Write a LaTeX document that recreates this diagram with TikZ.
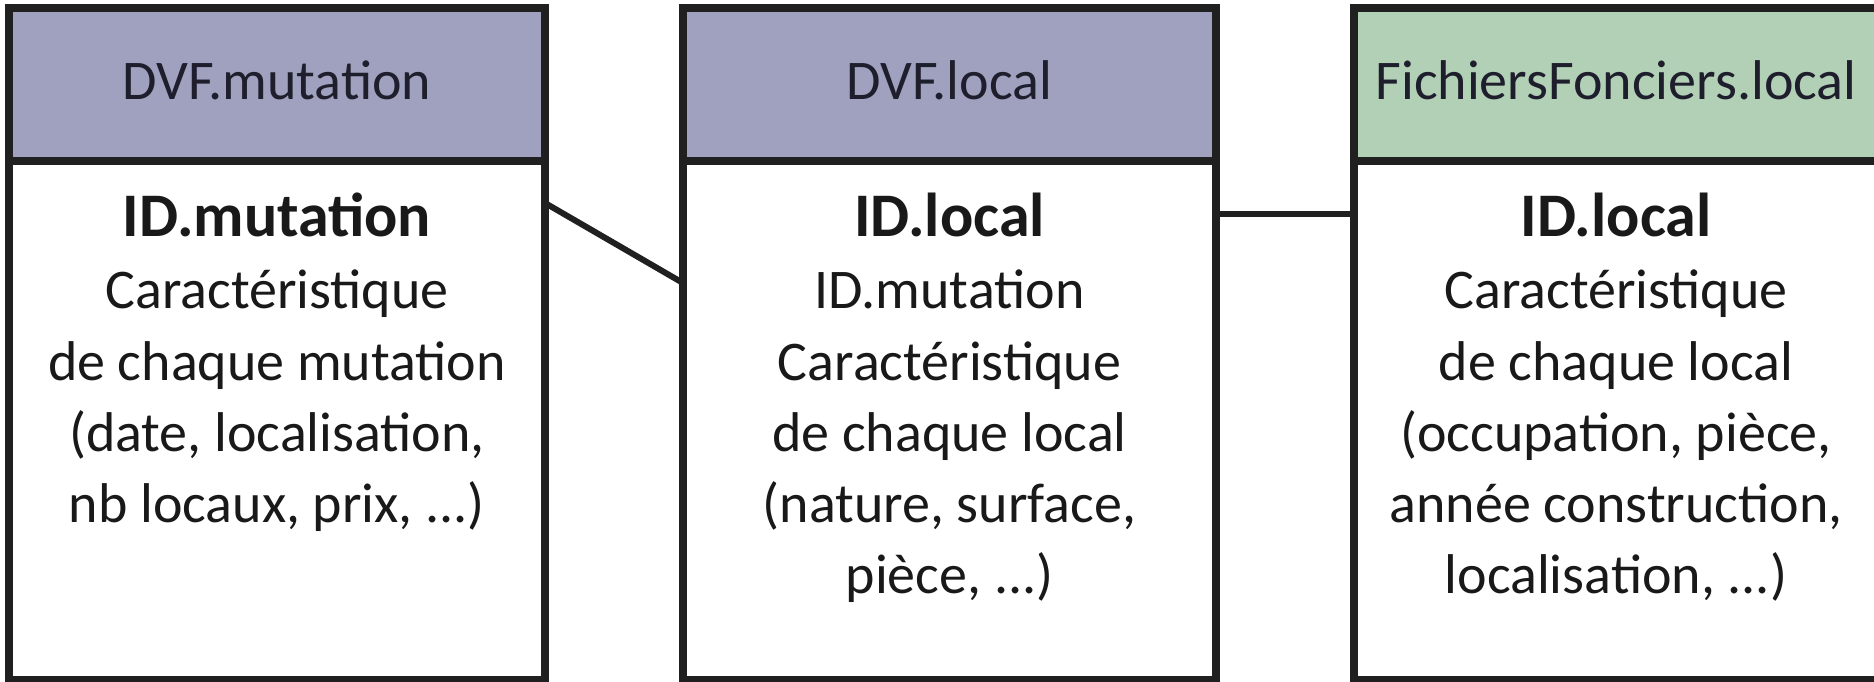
\documentclass[tikz,border=0pt]{standalone}
\usepackage{fontspec}
\setmainfont{Carlito}
\usetikzlibrary{calc}
\definecolor{hdrpurple}{RGB}{160,161,190}
\definecolor{hdrgreen}{RGB}{178,208,182}
\definecolor{edgecol}{RGB}{32,32,32}
\definecolor{hdrtext}{RGB}{30,30,45}
\begin{document}
\begin{tikzpicture}[x=1pt,y=-1pt,
  hdrbox/.style={draw=edgecol,line width=8pt,inner sep=0pt,outer sep=0pt,minimum height=153pt},
  bodybox/.style={draw=edgecol,fill=white,line width=8pt,inner sep=0pt,outer sep=0pt,minimum height=519pt},
  hdrtxt/.style={anchor=base,inner sep=0pt,text=hdrtext,font=\fontsize{56}{67}\selectfont},
  keytxt/.style={anchor=base,inner sep=0pt,text=black!90,font=\fontsize{62}{72}\selectfont\bfseries},
  bodytxt/.style={anchor=base,inner sep=0pt,text=black!90,font=\fontsize{56}{72}\selectfont},
  link/.style={draw=edgecol,line width=6pt}]
\useasboundingbox (0,0) rectangle (1874,682);
\clip (0,0) rectangle (1874,682);
% box 1
\node[hdrbox,fill=hdrpurple,minimum width=536pt] (h1) at (277,84.5) {};
\node[bodybox,minimum width=536pt] (b1) at (277,420.5) {};
% box 2
\node[hdrbox,fill=hdrpurple,minimum width=533pt] (h2) at (949.5,84.5) {};
\node[bodybox,minimum width=533pt] (b2) at (949.5,420.5) {};
% box 3
\node[hdrbox,fill=hdrgreen,minimum width=524pt] (h3) at (1616,84.5) {};
\node[bodybox,minimum width=524pt] (b3) at (1616,420.5) {};
% connectors
\draw[link] ($(b1.north east)+(0,42)$) -- ($(b2.north west)+(0,122)$);
\draw[link] ($(b2.north east)+(0,53)$) -- ($(b3.north west)+(0,53)$);
% header texts
\node[hdrtxt] (t1) at (277,100) {DVF.mutation};
\node[hdrtxt] (t2) at (949.5,100) {DVF.local};
\node[hdrtxt] (t3) at (1616,100) {FichiersFonciers.local};
% box 1 body
\node[keytxt] (k1) at (277,236) {ID.mutation};
\node[bodytxt] (a1) at (277,308) {Caractéristique};
\node[bodytxt] (a2) at (277,380) {de chaque mutation};
\node[bodytxt] (a3) at (277,451) {(date, localisation,};
\node[bodytxt] (a4) at (277,522) {nb locaux, prix, ...)};
% box 2 body
\node[keytxt] (k2) at (949.5,236) {ID.local};
\node[bodytxt] (m1) at (949.5,308) {ID.mutation};
\node[bodytxt] (m2) at (949.5,380) {Caractéristique};
\node[bodytxt] (m3) at (949.5,451) {de chaque local};
\node[bodytxt] (m4) at (949.5,522) {(nature, surface,};
\node[bodytxt] (m5) at (949.5,593) {pièce, ...)};
% box 3 body
\node[keytxt] (k3) at (1616,236) {ID.local};
\node[bodytxt] (f1) at (1616,308) {Caractéristique};
\node[bodytxt] (f2) at (1616,380) {de chaque local};
\node[bodytxt] (f3) at (1616,451) {(occupation, pièce,};
\node[bodytxt] (f4) at (1616,522) {année construction,};
\node[bodytxt] (f5) at (1616,593) {localisation, ...)};
\end{tikzpicture}
\end{document}
